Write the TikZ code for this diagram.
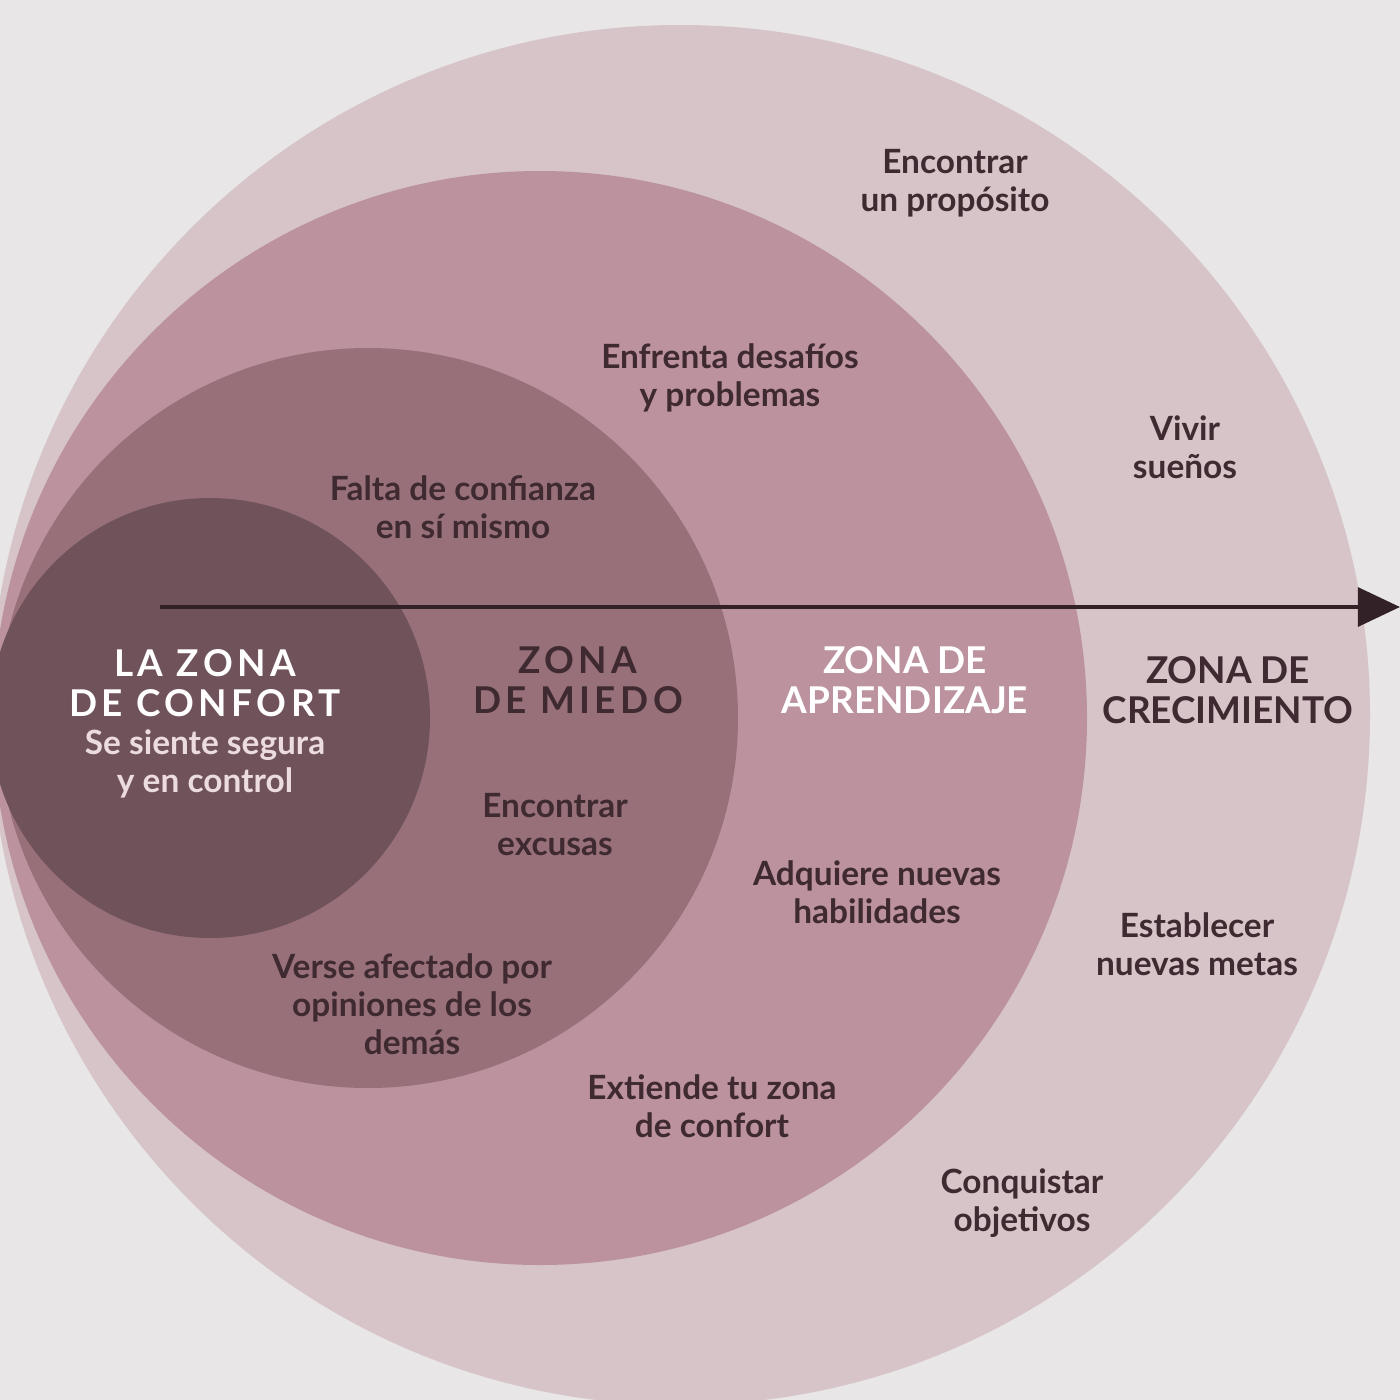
\documentclass[tikz,border=0pt]{standalone}
\usepackage{fontspec}
\setmainfont{Lato}
\newfontfamily\spaced[LetterSpace=12]{Lato}
\usetikzlibrary{arrows.meta}
\definecolor{bg}{RGB}{232,230,230}
\definecolor{cgrow}{RGB}{214,196,200}
\definecolor{clearn}{RGB}{188,146,158}
\definecolor{cfear}{RGB}{152,112,122}
\definecolor{ccomf}{RGB}{112,82,90}
\definecolor{txt}{RGB}{62,42,48}
\definecolor{ltxt}{RGB}{236,220,224}
\tikzset{
 lbl/.style={align=center,text=txt,font=\fontsize{9.5}{10.8}\selectfont\bfseries},
 hdr/.style={align=center,text=txt,font=\fontsize{10.5}{11.5}\selectfont\bfseries\spaced},
}
\begin{document}
\begin{tikzpicture}[x=0.01cm,y=-0.01cm]
\fill[bg] (0,0) rectangle (1400,1400);
\useasboundingbox (0,0) rectangle (1400,1400);
\begin{scope}
\clip (0,0) rectangle (1400,1400);
\fill[cgrow] (680,715) circle (690);
\fill[clearn] (540,718) circle (547);
\fill[cfear] (368,718) circle (370);
\fill[ccomf] (210,718) circle (220);
\end{scope}
\coordinate (as) at (160,607);
\coordinate (ae) at (1400,607);
\draw[line width=1.3pt,txt!80!black,-{Triangle[length=12pt,width=11pt]}] (as) -- (ae);
\node[hdr,text=white] (h1) at (205,683) {LA ZONA\\DE CONFORT};
\node[lbl,text=ltxt] (s1) at (205,764) {Se siente segura\\y en control};
\node[hdr] (h2) at (578,680) {ZONA\\DE MIEDO};
\node[hdr,text=white,font=\fontsize{10.5}{11.5}\selectfont\bfseries] (h3) at (905,680) {ZONA DE\\APRENDIZAJE};
\node[hdr,font=\fontsize{10.5}{11.5}\selectfont\bfseries] (h4) at (1228,690) {ZONA DE\\CRECIMIENTO};
\node[lbl] (t1) at (955,183) {Encontrar\\un propósito};
\node[lbl] (t2) at (730,378) {Enfrenta desafíos\\y problemas};
\node[lbl] (t3) at (1185,447) {Vivir\\sueños};
\node[lbl] (t4) at (463,507) {Falta de confianza\\en sí mismo};
\node[lbl] (t5) at (555,825) {Encontrar\\excusas};
\node[lbl] (t6) at (877,892) {Adquiere nuevas\\habilidades};
\node[lbl] (t7) at (1197,944) {Establecer\\nuevas metas};
\node[lbl] (t8) at (412,1004) {Verse afectado por\\opiniones de los\\demás};
\node[lbl] (t9) at (712,1106) {Extiende tu zona\\de confort};
\node[lbl] (t10) at (1022,1203) {Conquistar\\objetivos};
\end{tikzpicture}
\end{document}
